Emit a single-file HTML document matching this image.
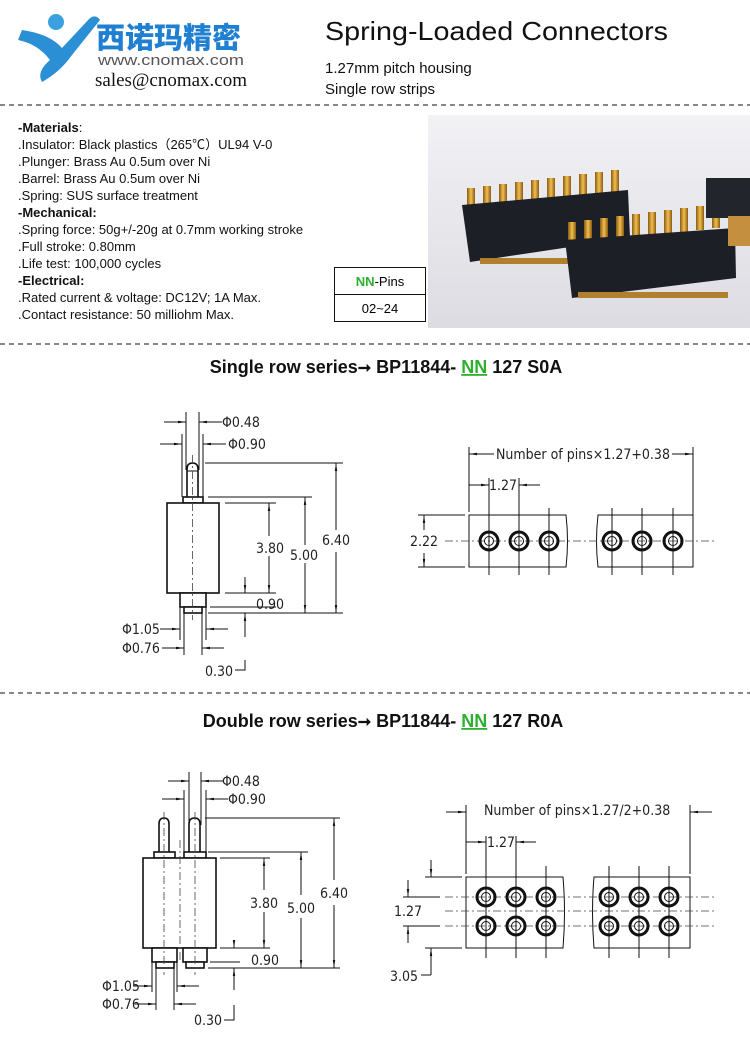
<!DOCTYPE html>
<html><head><meta charset="utf-8"><style>
body{margin:0;background:#fff;}
svg{display:block;font-family:"Liberation Sans",sans-serif;}
.d{font-family:"DejaVu Sans Condensed","DejaVu Sans",sans-serif;font-size:14px;fill:#222;}
.l{stroke:#111;stroke-width:1;fill:none;}
.t{stroke:#111;stroke-width:1.6;fill:#fff;}
.c{stroke:#444;stroke-width:0.8;stroke-dasharray:8 3 2 3;fill:none;}
.sp{font-size:13px;fill:#111;}
</style></head><body>
<svg width="750" height="1053" viewBox="0 0 750 1053" xmlns="http://www.w3.org/2000/svg">
<defs>
<marker id="a" viewBox="0 0 10 10" refX="10" refY="5" markerWidth="8" markerHeight="8" orient="auto-start-reverse"><path d="M0,3.5 L10,5 L0,6.5 z" fill="#111"/></marker>
<linearGradient id="bg" x1="0" y1="0" x2="0" y2="1"><stop offset="0" stop-color="#f2f2f5"/><stop offset="1" stop-color="#dcdce2"/></linearGradient>
<linearGradient id="gd" x1="0" y1="0" x2="1" y2="0"><stop offset="0" stop-color="#8a5a12"/><stop offset="0.5" stop-color="#f0c050"/><stop offset="1" stop-color="#8a5a12"/></linearGradient>
</defs>

<!-- logo -->
<path d="M22,30 Q50,34 62,48 L90,18 Q96,14 100,20 L72,55 Q60,72 42,82 Q36,72 50,60 Q38,44 18,40 Z" fill="#2a8fd4"/>
<circle cx="56" cy="22" r="8" fill="#3aa0e0"/>
<text x="96" y="48" font-family="'Noto Sans CJK SC',sans-serif" font-weight="900" font-size="29" fill="#1f7fd0">西诺玛精密</text>
<text x="98" y="65" font-size="15" fill="#555" textLength="146" lengthAdjust="spacingAndGlyphs">www.cnomax.com</text>
<text x="95" y="86" font-family="'Liberation Serif',serif" font-size="19" fill="#111" textLength="152" lengthAdjust="spacingAndGlyphs">sales@cnomax.com</text>

<text x="325" y="40" font-size="26" fill="#111" textLength="343" lengthAdjust="spacingAndGlyphs">Spring-Loaded Connectors</text>
<text x="325" y="73" font-size="15" fill="#111">1.27mm pitch housing</text>
<text x="325" y="94" font-size="15" fill="#111">Single row strips</text>

<line x1="0" y1="105" x2="750" y2="105" stroke="#111" stroke-dasharray="5 4"/>
<line x1="0" y1="344" x2="750" y2="344" stroke="#111" stroke-dasharray="5 4"/>
<line x1="0" y1="693" x2="750" y2="693" stroke="#111" stroke-dasharray="5 4"/>

<!-- specs -->
<g class="sp">
<text x="18" y="132"><tspan font-weight="bold">-Materials</tspan>:</text>
<text x="18" y="149">.Insulator: Black plastics（265℃）UL94 V-0</text>
<text x="18" y="166">.Plunger: Brass Au 0.5um over Ni</text>
<text x="18" y="183">.Barrel: Brass Au 0.5um over Ni</text>
<text x="18" y="200">.Spring: SUS surface treatment</text>
<text x="18" y="217" font-weight="bold">-Mechanical:</text>
<text x="18" y="234">.Spring force: 50g+/-20g at 0.7mm working stroke</text>
<text x="18" y="251">.Full stroke: 0.80mm</text>
<text x="18" y="268">.Life test: 100,000 cycles</text>
<text x="18" y="285" font-weight="bold">-Electrical:</text>
<text x="18" y="302">.Rated current &amp; voltage: DC12V; 1A Max.</text>
<text x="18" y="319">.Contact resistance: 50 milliohm Max.</text>
</g>
<rect x="334.5" y="267.5" width="91" height="54" fill="none" stroke="#111"/>
<line x1="334" y1="294.5" x2="426" y2="294.5" stroke="#111"/>
<text x="380" y="286" font-size="13" text-anchor="middle"><tspan fill="#2db02d" font-weight="bold">NN</tspan>-Pins</text>
<text x="380" y="313" font-size="13" text-anchor="middle">02~24</text>

<!-- photo -->
<rect x="428" y="115" width="322" height="213" fill="url(#bg)"/>
<g>
<g fill="url(#gd)">
<rect x="467" y="188" width="8" height="22"/><rect x="483" y="186" width="8" height="22"/><rect x="499" y="184" width="8" height="22"/><rect x="515" y="182" width="8" height="22"/><rect x="531" y="180" width="8" height="22"/><rect x="547" y="178" width="8" height="22"/><rect x="563" y="176" width="8" height="22"/><rect x="579" y="174" width="8" height="22"/><rect x="595" y="172" width="8" height="22"/><rect x="611" y="170" width="8" height="22"/>
</g>
<path d="M462,205 L628,190 L630,238 L470,262 Z" fill="#1d1f26"/>
<rect x="480" y="258" width="130" height="6" fill="#b08030"/>
<g fill="url(#gd)">
<rect x="568" y="222" width="8" height="24"/><rect x="584" y="220" width="8" height="24"/><rect x="600" y="218" width="8" height="24"/><rect x="616" y="216" width="8" height="24"/><rect x="632" y="214" width="8" height="24"/><rect x="648" y="212" width="8" height="24"/><rect x="664" y="210" width="8" height="24"/><rect x="680" y="208" width="8" height="24"/><rect x="696" y="206" width="8" height="24"/><rect x="712" y="204" width="8" height="24"/>
</g>
<path d="M565,240 L735,228 L736,278 L572,298 Z" fill="#1d1f26"/>
<rect x="578" y="292" width="150" height="6" fill="#b08030"/>
<rect x="706" y="178" width="44" height="40" fill="#23252c"/>
<rect x="728" y="216" width="22" height="30" fill="#c49040"/>
</g>

<!-- heading 1 -->
<text x="386" y="373" font-size="18" font-weight="bold" text-anchor="middle" fill="#111">Single row series<tspan font-size="16">➞</tspan> BP11844- <tspan fill="#2db02d" text-decoration="underline">NN</tspan> 127 S0A</text>

<!-- single side view -->
<g>
<line class="l" x1="186" y1="412" x2="186" y2="470"/><line class="l" x1="199" y1="412" x2="199" y2="470"/>
<line class="l" x1="164" y1="422" x2="186" y2="422" marker-end="url(#a)"/><line class="l" x1="222" y1="422" x2="199" y2="422" marker-end="url(#a)"/>
<text class="d" x="222" y="427">Φ0.48</text>
<line class="l" x1="182" y1="434" x2="182" y2="497"/><line class="l" x1="203" y1="434" x2="203" y2="497"/>
<line class="l" x1="160" y1="444" x2="182" y2="444" marker-end="url(#a)"/><line class="l" x1="226" y1="444" x2="203" y2="444" marker-end="url(#a)"/>
<text class="d" x="228" y="449">Φ0.90</text>
<path class="t" d="M187,497 L187,469 Q187,463 192.5,463 Q198,463 198,469 L198,497"/>
<line class="l" x1="187" y1="471" x2="198" y2="471"/>
<rect class="t" x="183" y="497" width="20" height="6"/>
<rect class="t" x="167" y="503" width="52" height="90"/>
<rect class="t" x="180" y="593" width="26" height="14"/>
<rect class="t" x="184" y="607" width="18" height="6"/>
<line class="c" x1="192.5" y1="455" x2="192.5" y2="620"/>
<line class="l" x1="205" y1="463" x2="343" y2="463"/><line class="l" x1="208" y1="613" x2="343" y2="613"/>
<line class="l" x1="336" y1="530" x2="336" y2="463" marker-end="url(#a)"/><line class="l" x1="336" y1="552" x2="336" y2="613" marker-end="url(#a)"/>
<text class="d" x="322" y="545">6.40</text>
<line class="l" x1="208" y1="497" x2="312" y2="497"/>
<line class="l" x1="305" y1="545" x2="305" y2="497" marker-end="url(#a)"/><line class="l" x1="305" y1="563" x2="305" y2="613" marker-end="url(#a)"/>
<text class="d" x="290" y="560">5.00</text>
<line class="l" x1="225" y1="503" x2="276" y2="503"/><line class="l" x1="225" y1="593" x2="276" y2="593"/>
<line class="l" x1="269" y1="536" x2="269" y2="503" marker-end="url(#a)"/><line class="l" x1="269" y1="556" x2="269" y2="593" marker-end="url(#a)"/>
<text class="d" x="256" y="553">3.80</text>
<line class="l" x1="210" y1="607" x2="276" y2="607"/>
<line class="l" x1="245" y1="577" x2="245" y2="593" marker-end="url(#a)"/>
<line class="l" x1="245" y1="637" x2="245" y2="613" marker-end="url(#a)"/>
<text class="d" x="256" y="609">0.90</text>
<line class="l" x1="180" y1="607" x2="180" y2="640"/><line class="l" x1="206" y1="607" x2="206" y2="640"/>
<line class="l" x1="160" y1="629" x2="180" y2="629" marker-end="url(#a)"/><line class="l" x1="228" y1="629" x2="206" y2="629" marker-end="url(#a)"/>
<text class="d" x="122" y="634">Φ1.05</text>
<line class="l" x1="184" y1="613" x2="184" y2="655"/><line class="l" x1="202" y1="613" x2="202" y2="655"/>
<line class="l" x1="162" y1="648" x2="184" y2="648" marker-end="url(#a)"/><line class="l" x1="224" y1="648" x2="202" y2="648" marker-end="url(#a)"/>
<text class="d" x="122" y="653">Φ0.76</text>
<text class="d" x="205" y="676">0.30</text>
<path class="l" d="M235,670 L245,670 L245,660"/>
</g>

<!-- single top view -->
<g>
<line class="l" x1="469" y1="447" x2="469" y2="512"/><line class="l" x1="693" y1="447" x2="693" y2="567"/>
<line class="l" x1="494" y1="454" x2="469" y2="454" marker-end="url(#a)"/><line class="l" x1="672" y1="454" x2="693" y2="454" marker-end="url(#a)"/>
<text class="d" x="496" y="459">Number of pins×1.27+0.38</text>
<line class="l" x1="469" y1="485" x2="489" y2="485" marker-end="url(#a)"/><line class="l" x1="540" y1="485" x2="519" y2="485" marker-end="url(#a)"/>
<text class="d" x="489" y="490">1.27</text>
<path class="l" d="M469,515 L566,515 Q569,541 566,567 L469,567 Z" stroke-width="1.3"/>
<path class="l" d="M693,515 L598,515 Q595,541 598,567 L693,567 Z" stroke-width="1.3"/>
<line class="c" x1="445" y1="541" x2="715" y2="541"/>
<g class="l">
<line x1="489" y1="478" x2="489" y2="575"/><line x1="519" y1="478" x2="519" y2="575"/><line x1="549" y1="508" x2="549" y2="575"/>
<line x1="612" y1="508" x2="612" y2="575"/><line x1="642" y1="508" x2="642" y2="575"/><line x1="673" y1="508" x2="673" y2="575"/>
</g>
<g fill="none" stroke="#111">
<circle cx="489" cy="541" r="9" stroke-width="3"/><circle cx="489" cy="541" r="4.5"/>
<circle cx="519" cy="541" r="9" stroke-width="3"/><circle cx="519" cy="541" r="4.5"/>
<circle cx="549" cy="541" r="9" stroke-width="3"/><circle cx="549" cy="541" r="4.5"/>
<circle cx="612" cy="541" r="9" stroke-width="3"/><circle cx="612" cy="541" r="4.5"/>
<circle cx="642" cy="541" r="9" stroke-width="3"/><circle cx="642" cy="541" r="4.5"/>
<circle cx="673" cy="541" r="9" stroke-width="3"/><circle cx="673" cy="541" r="4.5"/>
</g>
<line class="l" x1="418" y1="515" x2="465" y2="515"/><line class="l" x1="418" y1="567" x2="465" y2="567"/>
<line class="l" x1="424" y1="530" x2="424" y2="515" marker-end="url(#a)"/><line class="l" x1="424" y1="553" x2="424" y2="567" marker-end="url(#a)"/>
<text class="d" x="410" y="546">2.22</text>
</g>

<!-- heading 2 -->
<text x="383" y="727" font-size="18" font-weight="bold" text-anchor="middle" fill="#111">Double row series<tspan font-size="16">➞</tspan> BP11844- <tspan fill="#2db02d" text-decoration="underline">NN</tspan> 127 R0A</text>

<!-- double side view -->
<g>
<line class="l" x1="189" y1="772" x2="189" y2="825"/><line class="l" x1="201" y1="772" x2="201" y2="825"/>
<line class="l" x1="168" y1="781" x2="189" y2="781" marker-end="url(#a)"/><line class="l" x1="224" y1="781" x2="201" y2="781" marker-end="url(#a)"/>
<text class="d" x="222" y="786">Φ0.48</text>
<line class="l" x1="184" y1="790" x2="184" y2="852"/><line class="l" x1="206" y1="790" x2="206" y2="852"/>
<line class="l" x1="162" y1="799" x2="184" y2="799" marker-end="url(#a)"/><line class="l" x1="228" y1="799" x2="206" y2="799" marker-end="url(#a)"/>
<text class="d" x="228" y="804">Φ0.90</text>
<path class="t" d="M159,852 L159,824 Q159,818 164,818 Q169,818 169,824 L169,852"/>
<path class="t" d="M189,852 L189,824 Q189,818 194.5,818 Q200,818 200,824 L200,852"/>
<rect class="t" x="154" y="852" width="21" height="6"/><rect class="t" x="184" y="852" width="22" height="6"/>
<rect class="t" x="143" y="858" width="73" height="90"/>
<rect class="t" x="152" y="948" width="25" height="14"/><rect class="t" x="183" y="948" width="24" height="14"/>
<rect class="t" x="156" y="962" width="18" height="6"/><rect class="t" x="186" y="962" width="18" height="6"/>
<line class="c" x1="164" y1="812" x2="164" y2="975"/><line class="c" x1="195" y1="812" x2="195" y2="975"/><line class="c" x1="180" y1="840" x2="180" y2="960"/>
<line class="l" x1="205" y1="818" x2="340" y2="818"/><line class="l" x1="208" y1="968" x2="340" y2="968"/>
<line class="l" x1="334" y1="880" x2="334" y2="818" marker-end="url(#a)"/><line class="l" x1="334" y1="905" x2="334" y2="968" marker-end="url(#a)"/>
<text class="d" x="320" y="898">6.40</text>
<line class="l" x1="208" y1="852" x2="308" y2="852"/>
<line class="l" x1="301" y1="895" x2="301" y2="852" marker-end="url(#a)"/><line class="l" x1="301" y1="918" x2="301" y2="968" marker-end="url(#a)"/>
<text class="d" x="287" y="913">5.00</text>
<line class="l" x1="220" y1="858" x2="270" y2="858"/><line class="l" x1="220" y1="948" x2="270" y2="948"/>
<line class="l" x1="264" y1="890" x2="264" y2="858" marker-end="url(#a)"/><line class="l" x1="264" y1="912" x2="264" y2="948" marker-end="url(#a)"/>
<text class="d" x="250" y="908">3.80</text>
<line class="l" x1="210" y1="962" x2="240" y2="962"/>
<line class="l" x1="234" y1="940" x2="234" y2="948" marker-end="url(#a)"/>
<line class="l" x1="234" y1="990" x2="234" y2="968" marker-end="url(#a)"/>
<text class="d" x="251" y="965">0.90</text>
<line class="l" x1="152" y1="962" x2="152" y2="992"/><line class="l" x1="177" y1="962" x2="177" y2="992"/>
<line class="l" x1="133" y1="986" x2="152" y2="986" marker-end="url(#a)"/><line class="l" x1="199" y1="986" x2="177" y2="986" marker-end="url(#a)"/>
<text class="d" x="102" y="991">Φ1.05</text>
<line class="l" x1="156" y1="968" x2="156" y2="1010"/><line class="l" x1="174" y1="968" x2="174" y2="1010"/>
<line class="l" x1="135" y1="1004" x2="156" y2="1004" marker-end="url(#a)"/><line class="l" x1="196" y1="1004" x2="174" y2="1004" marker-end="url(#a)"/>
<text class="d" x="102" y="1009">Φ0.76</text>
<text class="d" x="194" y="1025">0.30</text>
<path class="l" d="M224,1020 L234,1020 L234,1005"/>
</g>

<!-- double top view -->
<g>
<line class="l" x1="466" y1="805" x2="466" y2="874"/><line class="l" x1="690" y1="805" x2="690" y2="874"/>
<line class="l" x1="446" y1="812" x2="466" y2="812" marker-end="url(#a)"/><line class="l" x1="712" y1="812" x2="690" y2="812" marker-end="url(#a)"/>
<text class="d" x="484" y="815">Number of pins×1.27/2+0.38</text>
<line class="l" x1="466" y1="842" x2="486" y2="842" marker-end="url(#a)"/><line class="l" x1="536" y1="842" x2="516" y2="842" marker-end="url(#a)"/>
<text class="d" x="487" y="847">1.27</text>
<path class="l" d="M466,877 L563,877 Q566,912 563,948 L466,948 Z" stroke-width="1.3"/>
<path class="l" d="M690,877 L594,877 Q591,912 594,948 L690,948 Z" stroke-width="1.3"/>
<line class="c" x1="445" y1="897" x2="715" y2="897"/><line class="c" x1="445" y1="911" x2="715" y2="911"/><line class="c" x1="445" y1="926" x2="715" y2="926"/>
<g class="l">
<line x1="486" y1="836" x2="486" y2="958"/><line x1="516" y1="836" x2="516" y2="958"/><line x1="546" y1="866" x2="546" y2="958"/>
<line x1="609" y1="866" x2="609" y2="958"/><line x1="639" y1="866" x2="639" y2="958"/><line x1="669" y1="866" x2="669" y2="958"/>
</g>
<g fill="none" stroke="#111">
<circle cx="486" cy="897" r="9" stroke-width="3"/><circle cx="486" cy="897" r="4.5"/>
<circle cx="516" cy="897" r="9" stroke-width="3"/><circle cx="516" cy="897" r="4.5"/>
<circle cx="546" cy="897" r="9" stroke-width="3"/><circle cx="546" cy="897" r="4.5"/>
<circle cx="609" cy="897" r="9" stroke-width="3"/><circle cx="609" cy="897" r="4.5"/>
<circle cx="639" cy="897" r="9" stroke-width="3"/><circle cx="639" cy="897" r="4.5"/>
<circle cx="669" cy="897" r="9" stroke-width="3"/><circle cx="669" cy="897" r="4.5"/>
<circle cx="486" cy="926" r="9" stroke-width="3"/><circle cx="486" cy="926" r="4.5"/>
<circle cx="516" cy="926" r="9" stroke-width="3"/><circle cx="516" cy="926" r="4.5"/>
<circle cx="546" cy="926" r="9" stroke-width="3"/><circle cx="546" cy="926" r="4.5"/>
<circle cx="609" cy="926" r="9" stroke-width="3"/><circle cx="609" cy="926" r="4.5"/>
<circle cx="639" cy="926" r="9" stroke-width="3"/><circle cx="639" cy="926" r="4.5"/>
<circle cx="669" cy="926" r="9" stroke-width="3"/><circle cx="669" cy="926" r="4.5"/>
</g>
<line class="l" x1="403" y1="897" x2="440" y2="897"/><line class="l" x1="403" y1="926" x2="440" y2="926"/>
<line class="l" x1="408" y1="880" x2="408" y2="897" marker-end="url(#a)"/><line class="l" x1="408" y1="943" x2="408" y2="926" marker-end="url(#a)"/>
<text class="d" x="394" y="916">1.27</text>
<line class="l" x1="425" y1="877" x2="462" y2="877"/><line class="l" x1="425" y1="948" x2="462" y2="948"/>
<line class="l" x1="431" y1="860" x2="431" y2="877" marker-end="url(#a)"/>
<line class="l" x1="431" y1="975" x2="431" y2="948" marker-end="url(#a)"/>
<path class="l" d="M421,975 L431,975"/>
<text class="d" x="390" y="981">3.05</text>
</g>
</svg>
</body></html>
